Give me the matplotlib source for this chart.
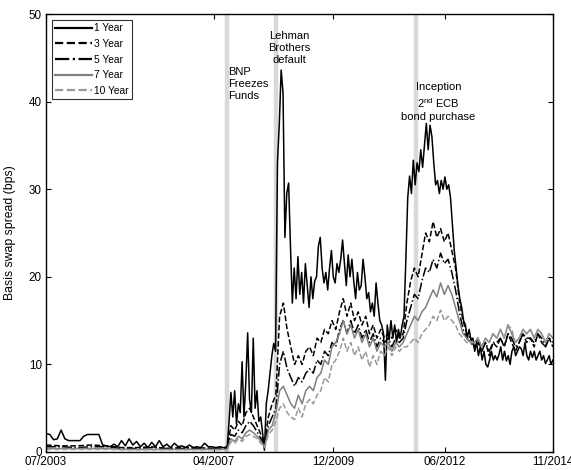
import numpy as np
import matplotlib
matplotlib.use("Agg")
import matplotlib.pyplot as plt

plt.rcParams["font.family"] = ["Liberation Sans", "DejaVu Sans"]
plt.rcParams["mathtext.fontset"] = "custom"
plt.rcParams["mathtext.rm"] = "Liberation Sans"
plt.rcParams["mathtext.it"] = "Liberation Sans"

# time span of the two segments (decimal years)
PRE_START, PRE_END = 2003.5, 2007.55
POST_START, POST_END = 2007.55, 2014.83

# event dates (decimal years)
EVENTS = [2007.55, 2008.65, 2011.78]

# x tick positions and labels
XTICKS = [2003.5, 2007.25, 2009.917, 2012.417, 2014.833]
XTICK_LABELS = ["07/2003", "04/2007", "12/2009", "06/2012", "11/2014"]

# 1 Year: monthly before Aug 2007, half-monthly afterwards
y1_pre = [2.1, 2.0, 1.4, 1.5, 2.5, 1.5, 1.3, 1.3, 1.3, 1.3, 1.8, 2.0, 2.0,
          2.0, 2.0, 0.8, 0.7, 0.6, 0.9, 0.6, 1.3, 0.7, 1.5, 0.8, 1.2, 0.6,
          1.0, 0.5, 1.1, 0.6, 1.3, 0.6, 0.9, 0.5, 1.0, 0.6, 0.7, 0.5, 0.8,
          0.5, 0.6, 0.5, 1.0, 0.6, 0.6, 0.5, 0.6, 0.5, 0.6]
y1_post = [7.2, 3.5, 6.8, 4.0, 7.0, 3.2, 5.5, 4.5, 10.3, 4.0, 8.0, 13.6,
           6.0, 4.5, 13.0, 5.0, 7.0, 3.5, 4.0, 2.2, 0.2, 5.5, 7.0, 9.0,
           11.0, 12.4, 11.5, 33.0, 37.5, 43.6, 41.0, 24.5, 29.5, 30.7, 23.4, 17.0,
           21.0, 17.5, 22.3, 18.0, 20.5, 17.0, 21.5, 19.0, 16.5, 20.0, 17.5, 19.5,
           20.0, 23.5, 24.5, 21.0, 19.3, 20.5, 18.5, 21.0, 23.0, 20.0, 19.3, 21.5,
           20.5, 22.0, 24.2, 21.5, 19.0, 22.5, 20.0, 22.0, 19.5, 17.5, 20.5, 18.5,
           19.0, 22.0, 20.0, 17.5, 18.2, 16.0, 17.0, 15.5, 19.3, 17.0, 15.0, 14.5,
           13.5, 8.2, 14.5, 12.8, 15.0, 13.0, 14.5, 12.5, 14.0, 13.0, 14.5, 15.5,
           22.0, 29.0, 31.5, 29.5, 33.3, 30.5, 33.0, 32.0, 34.5, 32.5, 35.0, 37.5,
           34.5, 37.3, 36.0, 33.0, 30.5, 31.0, 29.5, 31.0, 30.0, 31.4, 30.0, 30.5,
           29.0, 26.0, 23.0, 21.0, 19.0, 17.5, 16.5, 15.0, 14.5, 13.0, 14.0, 12.8,
           13.0, 11.5, 12.5, 11.0, 12.0, 10.5, 11.5, 10.0, 9.7, 10.5, 11.5, 10.5,
           11.0, 10.5, 11.1, 12.0, 10.5, 11.5, 10.4, 11.0, 10.0, 11.5, 12.0, 11.0,
           11.5, 12.0, 11.8, 11.0, 12.5, 11.0, 10.5, 11.5, 10.8, 11.5, 10.5, 11.0,
           11.5, 10.5, 11.0, 10.1, 10.5, 11.0, 10.0, 10.5]

# other maturities: coarse before Aug 2007, monthly afterwards
y3_pre = [0.8, 0.7, 0.7, 0.8, 0.7, 0.5, 0.5, 0.6, 0.4, 0.5, 0.5, 0.4, 0.5]
y3_post = [1.0, 3.0, 2.5, 3.5, 3.0, 4.5, 5.0, 4.0, 3.0, 2.0, 1.0, 4.0, 5.5, 6.5,
           15.5, 17.0, 14.0, 12.0,
           10.0, 11.0, 10.0, 11.5, 12.0, 11.0,
           13.0, 12.5, 14.0, 13.5, 15.0, 14.0,
           16.0, 17.5, 15.5, 17.0, 15.0, 16.0,
           14.5, 15.5, 13.5, 14.5, 13.0, 14.0,
           13.0, 13.5, 13.0, 14.0, 13.0, 13.5,
           17.0, 19.5, 21.0, 20.0, 22.5, 25.0,
           24.0, 26.3, 24.5, 25.5, 24.0, 25.0,
           23.0, 21.0, 17.4, 15.0, 13.5, 13.0,
           12.0, 13.0, 11.5, 12.5, 11.0, 12.5,
           12.0, 13.0, 12.0, 13.5, 12.5, 11.5,
           12.5, 13.5, 12.5, 13.0, 12.0, 13.5,
           12.5, 12.0, 13.0, 12.0]

y5_pre = [0.6, 0.6, 0.5, 0.6, 0.6, 0.4, 0.4, 0.5, 0.4, 0.4, 0.4, 0.4, 0.4]
y5_post = [0.8, 2.0, 1.8, 2.5, 2.2, 3.0, 3.5, 3.0, 2.3, 1.5, 0.8, 3.0, 4.0, 5.0,
           10.0, 11.5, 9.5, 8.5,
           7.5, 8.5, 8.0, 9.0, 9.5, 9.0,
           10.5, 10.0, 11.5, 11.0, 12.5, 12.0,
           14.0, 15.0, 13.5, 15.0, 13.5, 14.5,
           13.0, 14.0, 12.5, 13.5, 12.0, 13.0,
           12.5, 13.0, 12.0, 13.0, 12.5, 13.0,
           15.0, 16.5, 18.0, 17.5, 19.5, 21.0,
           20.5, 22.0, 21.0, 22.7, 21.5, 22.0,
           20.5, 18.5, 16.0, 14.0, 13.0, 12.5,
           12.0, 12.5, 11.5, 12.5, 11.5, 12.5,
           12.5, 13.0, 12.0, 13.5, 13.0, 12.0,
           12.5, 13.5, 13.0, 13.0, 12.5, 13.5,
           13.0, 12.0, 13.0, 12.5]

y7_pre = [0.4, 0.4, 0.4, 0.4, 0.4, 0.3, 0.3, 0.3, 0.3, 0.3, 0.3, 0.3, 0.3]
y7_post = [0.5, 1.5, 1.2, 1.8, 1.5, 2.2, 2.5, 2.2, 1.8, 1.2, 0.6, 2.5, 3.0, 4.5,
           7.0, 7.5, 6.5, 5.5,
           5.0, 6.5, 5.5, 7.0, 7.5, 7.0,
           8.5, 9.0, 10.5, 10.0, 12.0, 12.5,
           13.5, 15.0, 13.5, 14.5, 13.0, 14.0,
           12.5, 13.5, 12.0, 13.0, 11.5, 12.5,
           12.0, 12.5, 11.5, 12.5, 12.0, 12.5,
           13.5, 14.5, 15.5, 15.0, 16.0, 16.5,
           17.5, 18.5, 17.7, 19.3, 18.0, 19.0,
           18.0, 16.5, 15.0, 13.5, 13.0, 12.5,
           12.5, 13.0, 12.0, 13.0, 12.5, 13.5,
           13.0, 14.0, 13.0, 14.5, 13.5, 12.5,
           13.0, 14.0, 13.5, 14.0, 13.0, 14.0,
           13.5, 12.5, 13.5, 13.0]

y10_pre = [0.3, 0.3, 0.3, 0.3, 0.3, 0.25, 0.25, 0.25, 0.25, 0.25, 0.25, 0.25, 0.25]
y10_post = [0.4, 1.2, 1.0, 1.5, 1.2, 1.8, 2.0, 1.8, 1.5, 1.0, 0.5, 2.0, 2.5, 3.5,
            5.0, 5.5, 4.5, 4.0,
            3.7, 5.0, 4.0, 5.5, 6.0, 5.5,
            6.5, 7.0, 8.5, 8.0, 10.0, 10.5,
            11.5, 13.0, 11.5, 12.5, 11.0, 12.0,
            10.5, 11.5, 9.7, 11.0, 10.0, 11.5,
            11.0, 12.0, 11.0, 12.0, 11.5, 12.0,
            12.0, 12.5, 13.0, 12.5, 13.5, 14.0,
            14.5, 15.5, 15.0, 16.2, 15.0, 15.5,
            15.0, 14.5, 13.5, 13.0, 12.5, 12.5,
            12.5, 13.0, 12.0, 13.0, 12.5, 13.5,
            13.0, 14.0, 13.0, 14.5, 14.0, 12.5,
            13.0, 14.0, 13.5, 14.0, 13.0, 14.0,
            13.5, 12.5, 13.5, 13.0]


def series(pre, post):
    # join the two segments on a decimal-year axis
    t_pre = np.linspace(PRE_START, PRE_END, len(pre))
    t_post = np.linspace(POST_START, POST_END, len(post))
    return np.concatenate([t_pre, t_post[1:]]), np.concatenate([pre, post[1:]])


fig = plt.figure(figsize=(5.71, 4.70), dpi=100)
ax = fig.add_axes([0.0806, 0.0383, 0.8879, 0.9319])

for d in EVENTS:
    ax.axvline(d, color="#d9d9d9", lw=3.2, zorder=0)

styles = [
    ("1 Year", y1_pre, y1_post, "-", "black"),
    ("3 Year", y3_pre, y3_post, "--", "black"),
    ("5 Year", y5_pre, y5_post, "-.", "black"),
    ("7 Year", y7_pre, y7_post, "-", "#808080"),
    ("10 Year", y10_pre, y10_post, "--", "#999999"),
]
for label, pre, post, ls, col in styles:
    t, v = series(pre, post)
    ax.plot(t, v, ls=ls, color=col, lw=1.1, label=label)

ax.set_xlim(2003.5, 2014.833)
ax.set_ylim(0, 50)
ax.set_xticks(XTICKS)
ax.set_xticklabels(XTICK_LABELS)
ax.set_yticks([0, 10, 20, 30, 40, 50])
ax.tick_params(direction="in", top=True, right=True, length=3.5, width=0.8,
               labelsize=8.4, pad=3)
for s in ax.spines.values():
    s.set_linewidth(1.0)
ax.set_ylabel("Basis swap spread (bps)", fontsize=8.8, labelpad=9)

txt = dict(fontsize=8, linespacing=1.3, va="top")
ax.text(2007.56, 44.0, "BNP\nFreezes\nFunds", ha="left", **txt)
ax.text(2008.94, 48.1, "Lehman\nBrothers\ndefault", ha="center", **txt)
ax.text(2012.27, 42.2, "Inception\n2$^{\\mathrm{nd}}$ ECB\nbond purchase",
        ha="center", **txt)

leg = ax.legend(loc="upper left", fontsize=7.4, frameon=True, fancybox=False,
                edgecolor="black", handlelength=3.6, handletextpad=0.15,
                labelspacing=0.55, borderpad=0.35, borderaxespad=0.55)
leg.get_frame().set_linewidth(0.8)
for h in leg.get_lines():
    h.set_linewidth(1.6)

fig.savefig("out.png", dpi=100)
